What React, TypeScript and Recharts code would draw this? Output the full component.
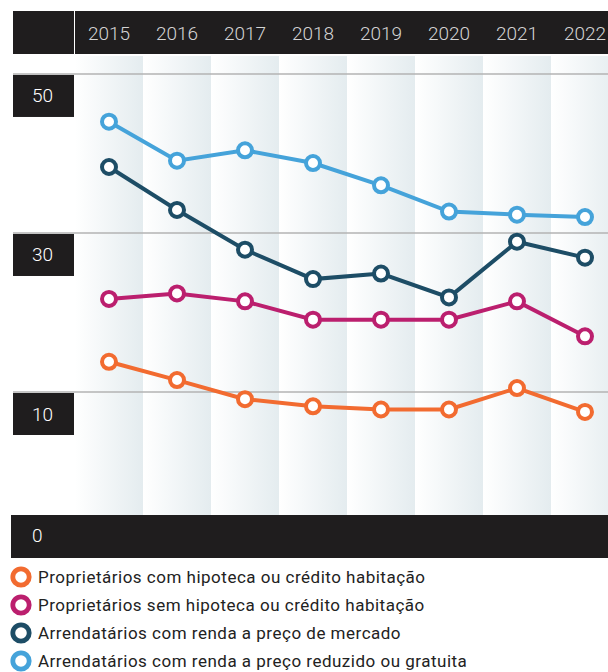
import React from "react";
import {
    ComposedChart,
    Line,
    Bar,
    XAxis,
    YAxis,
    ReferenceLine,
} from "recharts";

const years = ["2015", "2016", "2017", "2018", "2019", "2020", "2021", "2022"];
const ownersMortgage = [13.8, 11.5, 9.1, 8.2, 7.8, 7.8, 10.5, 7.5];
const ownersNoMortgage = [21.7, 22.4, 21.4, 19.1, 19.1, 19.1, 21.4, 17.0];
const tenantsMarket = [38.3, 32.9, 27.9, 24.2, 24.9, 21.9, 28.9, 26.9];
const tenantsReduced = [44.0, 39.1, 40.4, 38.8, 36.0, 32.7, 32.3, 32.0];
const yTicks = [10, 30, 50];
const yDomain: [number, number] = [-5.47, 52.26];

const series = [
    { key: "ownersMortgage", name: "Proprietários com hipoteca ou crédito habitação", color: "#f26b30", values: ownersMortgage },
    { key: "ownersNoMortgage", name: "Proprietários sem hipoteca ou crédito habitação", color: "#bb1f6e", values: ownersNoMortgage },
    { key: "tenantsMarket", name: "Arrendatários com renda a preço de mercado", color: "#1d4d66", values: tenantsMarket },
    { key: "tenantsReduced", name: "Arrendatários com renda a preço reduzido ou gratuita", color: "#45a3da", values: tenantsReduced },
];

const data = years.map((year, i) => {
    const row: Record<string, any> = { year, stripe: yDomain };
    series.forEach((s) => (row[s.key] = s.values[i]));
    return row;
});

const DARK = "#1f1d1e";
const FONT = "Roboto, sans-serif";

const YearTick = (props: any) => {
    const { x, payload } = props;
    return (
        <text x={x} y={33} textAnchor="middle" dominantBaseline="central"
            fill="#d4d4d4" fontSize={19} fontWeight={300} fontFamily={FONT}>
            {payload.value}
        </text>
    );
};

const ValueTick = (props: any) => {
    const { y, payload } = props;
    return (
        <g>
            <line x1={13} x2={75} y1={y} y2={y} stroke="#b3b3b3" strokeWidth={1.5} />
            <rect x={13} y={y + 1} width={61} height={42} fill={DARK} />
            <text x={32} y={y + 22} dominantBaseline="central" fill="#fff"
                fontSize={19} fontWeight={300} fontFamily={FONT}>
                {payload.value}
            </text>
        </g>
    );
};

export default function App() {
    return (
        <div style={{ position: "absolute", left: 0, top: 0, width: 608, height: 672, overflow: "hidden", background: "#fff" }}>
            <div style={{ position: "absolute", left: 13, top: 11, width: 595, height: 43, background: DARK }} />
            <div style={{ position: "absolute", left: 74, top: 11, width: 1, height: 43, background: "#fff" }} />
            <div style={{ position: "absolute", left: 11, top: 515, width: 597, height: 43, background: DARK }}>
                <span style={{ position: "absolute", left: 21, top: 9, color: "#fff", fontFamily: FONT, fontWeight: 300, fontSize: 19 }}>0</span>
            </div>
            <div style={{ position: "absolute", left: 0, top: 0 }}>
                <ComposedChart width={619} height={558} data={data}
                    margin={{ top: 11, right: 0, bottom: 43, left: 13 }}
                    barCategoryGap={0} barGap={0}>
                    <defs>
                        <linearGradient id="stripe" x1="0" y1="0" x2="1" y2="0">
                            <stop offset="0%" stopColor="#ffffff" />
                            <stop offset="100%" stopColor="#e4ecef" />
                        </linearGradient>
                    </defs>
                    <XAxis dataKey="year" orientation="top" height={45}
                        axisLine={false} tickLine={false} tick={<YearTick />} interval={0} />
                    <YAxis type="number" domain={yDomain} ticks={yTicks} width={62}
                        allowDataOverflow axisLine={false} tickLine={false} tick={<ValueTick />} />
                    <Bar dataKey="stripe" fill="url(#stripe)" isAnimationActive={false} />
                    {yTicks.map((t) => (
                        <ReferenceLine key={t} y={t} stroke="#b3b3b3" strokeWidth={1.5} />
                    ))}
                    {series.map((s) => (
                        <Line key={s.key} type="linear" dataKey={s.key} name={s.name}
                            stroke={s.color} strokeWidth={4}
                            dot={{ r: 7, fill: "#fff", stroke: s.color, strokeWidth: 4 }}
                            activeDot={false} isAnimationActive={false} />
                    ))}
                </ComposedChart>
            </div>
            <div style={{ position: "absolute", left: 0, top: 563 }}>
                {series.map((s) => (
                    <div key={s.key} style={{ display: "flex", alignItems: "center", height: 28 }}>
                        <svg width={38} height={28} style={{ flex: "none" }}>
                            <circle cx={21} cy={14} r={8.2} fill="#fff" stroke={s.color} strokeWidth={4.8} />
                        </svg>
                        <span style={{ fontFamily: FONT, fontSize: 17, letterSpacing: 0.5, color: "#222", whiteSpace: "nowrap", lineHeight: "20px" }}>{s.name}</span>
                    </div>
                ))}
            </div>
        </div>
    );
}
